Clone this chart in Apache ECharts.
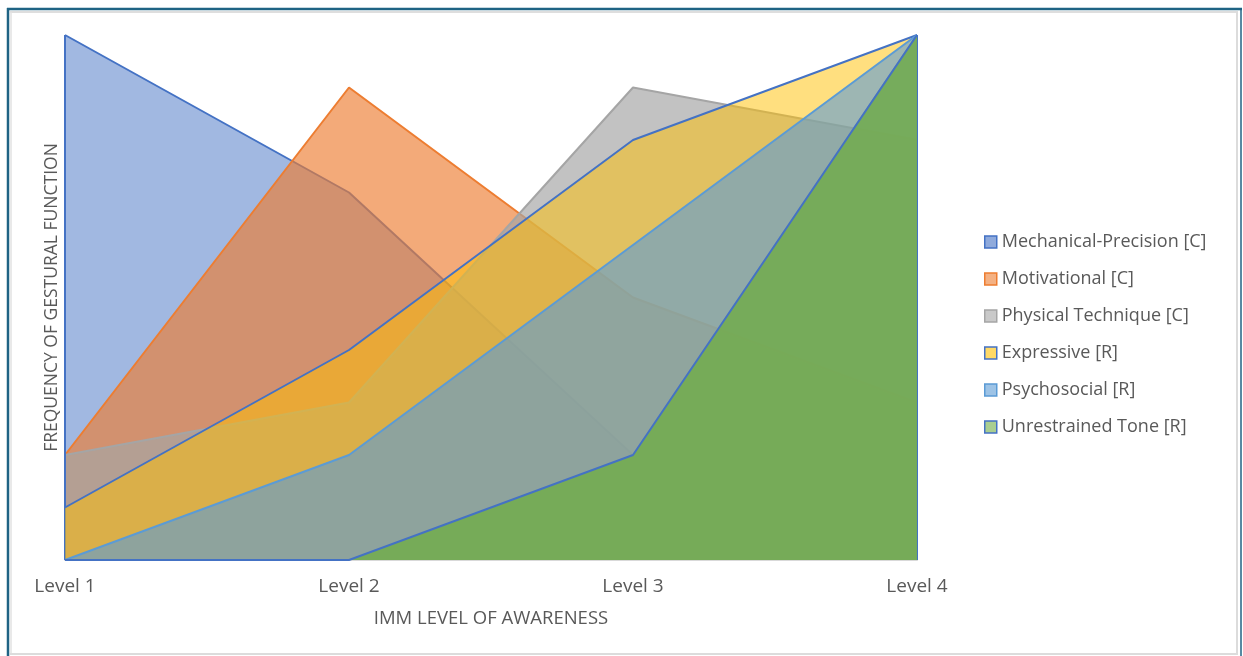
<!DOCTYPE html>
<html>
<head>
<meta charset="utf-8">
<title>Gestural function by IMM level of awareness</title>
<script src="https://cdn.jsdelivr.net/npm/echarts@6/dist/echarts.min.js"></script>
<style>
  html, body { margin: 0; padding: 0; background: #ffffff; }
  #chart { width: 1243px; height: 656px; }
</style>
</head>
<body>
<div id="chart"></div>
<script>
// Awareness levels on the horizontal axis
const levels = ['Level 1', 'Level 2', 'Level 3', 'Level 4'];

// Frequency of each gestural function per level
const mechanicalPrecision = [10, 7, 2, 10];
const motivational        = [2, 9, 5, 3];
const physicalTechnique   = [2, 3, 9, 8];
const expressive          = [1, 4, 8, 10];
const psychosocial        = [0, 2, 6, 10];
const unrestrainedTone    = [0, 0, 2, 10];

const seriesNames = [
  'Mechanical-Precision [C]',
  'Motivational [C]',
  'Physical Technique [C]',
  'Expressive [R]',
  'Psychosocial [R]',
  'Unrestrained Tone [R]'
];
const seriesData = [mechanicalPrecision, motivational, physicalTechnique, expressive, psychosocial, unrestrainedTone];

// fill colour, outline colour, fill opacity
const styles = [
  { fill: '#4472C4', line: '#4472C4', opacity: 0.5 },
  { fill: '#ED7D31', line: '#ED7D31', opacity: 0.65 },
  { fill: '#A5A5A5', line: '#A5A5A5', opacity: 0.68 },
  { fill: '#FFC000', line: '#4472C4', opacity: 0.5 },
  { fill: '#5B9BD5', line: '#5B9BD5', opacity: 0.6 },
  { fill: '#70AD47', line: '#4472C4', opacity: 0.8 }
];

const textColor = '#595959';
const fontFamily = '"Open Sans", "Liberation Sans", sans-serif';

// Each area sits on its own layer so later areas cover earlier outlines
const series = seriesNames.map((name, i) => ({
  name: name,
  type: 'line',
  z: 2 + i,
  data: seriesData[i],
  showSymbol: false,
  symbol: 'none',
  lineStyle: { color: styles[i].line, width: 2 },
  itemStyle: { color: styles[i].fill, borderColor: styles[i].line },
  areaStyle: { color: styles[i].fill, opacity: styles[i].opacity },
  emphasis: { disabled: true }
}));

// Outline the outer vertical edges of the first and last areas
series[series.length - 1].markLine = {
  silent: true,
  symbol: 'none',
  label: { show: false },
  lineStyle: { color: '#4472C4', width: 2, type: 'solid' },
  data: [
    [{ coord: [levels[0], 0] }, { coord: [levels[0], mechanicalPrecision[0]] }],
    [{ coord: [levels[3], 0] }, { coord: [levels[3], unrestrainedTone[3]] }]
  ]
};

const chart = echarts.init(document.getElementById('chart'), null, { renderer: 'canvas' });

chart.setOption({
  backgroundColor: '#ffffff',
  animation: false,
  textStyle: { fontFamily: fontFamily },
  grid: { left: 65, right: 326, top: 35, bottom: 96, containLabel: false },
  legend: {
    orient: 'vertical',
    left: 979,
    top: 228,
    icon: 'rect',
    itemWidth: 12,
    itemHeight: 12,
    itemGap: 19,
    textStyle: { color: textColor, fontSize: 18, fontFamily: fontFamily, padding: [0, 0, 0, 0] },
    data: seriesNames.map((name, i) => ({
      name: name,
      itemStyle: { color: echarts.color.modifyAlpha(styles[i].fill, 0.6), borderColor: styles[i].line, borderWidth: 1.5 }
    }))
  },
  xAxis: {
    type: 'category',
    data: levels,
    boundaryGap: false,
    name: 'IMM LEVEL OF AWARENESS',
    nameLocation: 'middle',
    nameGap: 49,
    nameTextStyle: { color: textColor, fontSize: 18.5, fontFamily: fontFamily },
    axisLine: { show: true, lineStyle: { color: '#d9d9d9', width: 2 } },
    axisTick: { show: false },
    axisLabel: { color: textColor, fontSize: 19, margin: 17, fontFamily: fontFamily },
    splitLine: { show: false }
  },
  yAxis: {
    type: 'value',
    min: 0,
    max: 10,
    interval: 1,
    name: 'FREQUENCY OF GESTURAL FUNCTION',
    nameLocation: 'middle',
    nameGap: 4,
    nameRotate: 90,
    nameTextStyle: { color: textColor, fontSize: 17.5, fontFamily: fontFamily },
    axisLine: { show: false },
    axisTick: { show: false },
    axisLabel: { show: false },
    splitLine: { show: false }
  },
  series: series,
  graphic: [
    // outer frame
    { type: 'line', shape: { x1: 7, y1: 9, x2: 1242, y2: 9 }, style: { stroke: '#1f6384', lineWidth: 2.5 } },
    { type: 'line', shape: { x1: 8, y1: 8, x2: 8, y2: 656 }, style: { stroke: '#1f6384', lineWidth: 2.5 } },
    { type: 'line', shape: { x1: 1241, y1: 8, x2: 1241, y2: 656 }, style: { stroke: '#1f6384', lineWidth: 1.5 } },
    // inner light border
    { type: 'line', shape: { x1: 10, y1: 12, x2: 1238, y2: 12 }, style: { stroke: '#dedede', lineWidth: 2 } },
    { type: 'line', shape: { x1: 11, y1: 12, x2: 11, y2: 654 }, style: { stroke: '#e2e2e2', lineWidth: 1.5 } },
    { type: 'line', shape: { x1: 1237, y1: 12, x2: 1237, y2: 654 }, style: { stroke: '#dcdcdc', lineWidth: 2 } },
    { type: 'line', shape: { x1: 10, y1: 654, x2: 1238, y2: 654 }, style: { stroke: '#dcdcdc', lineWidth: 2 } }
  ]
});
</script>
</body>
</html>
